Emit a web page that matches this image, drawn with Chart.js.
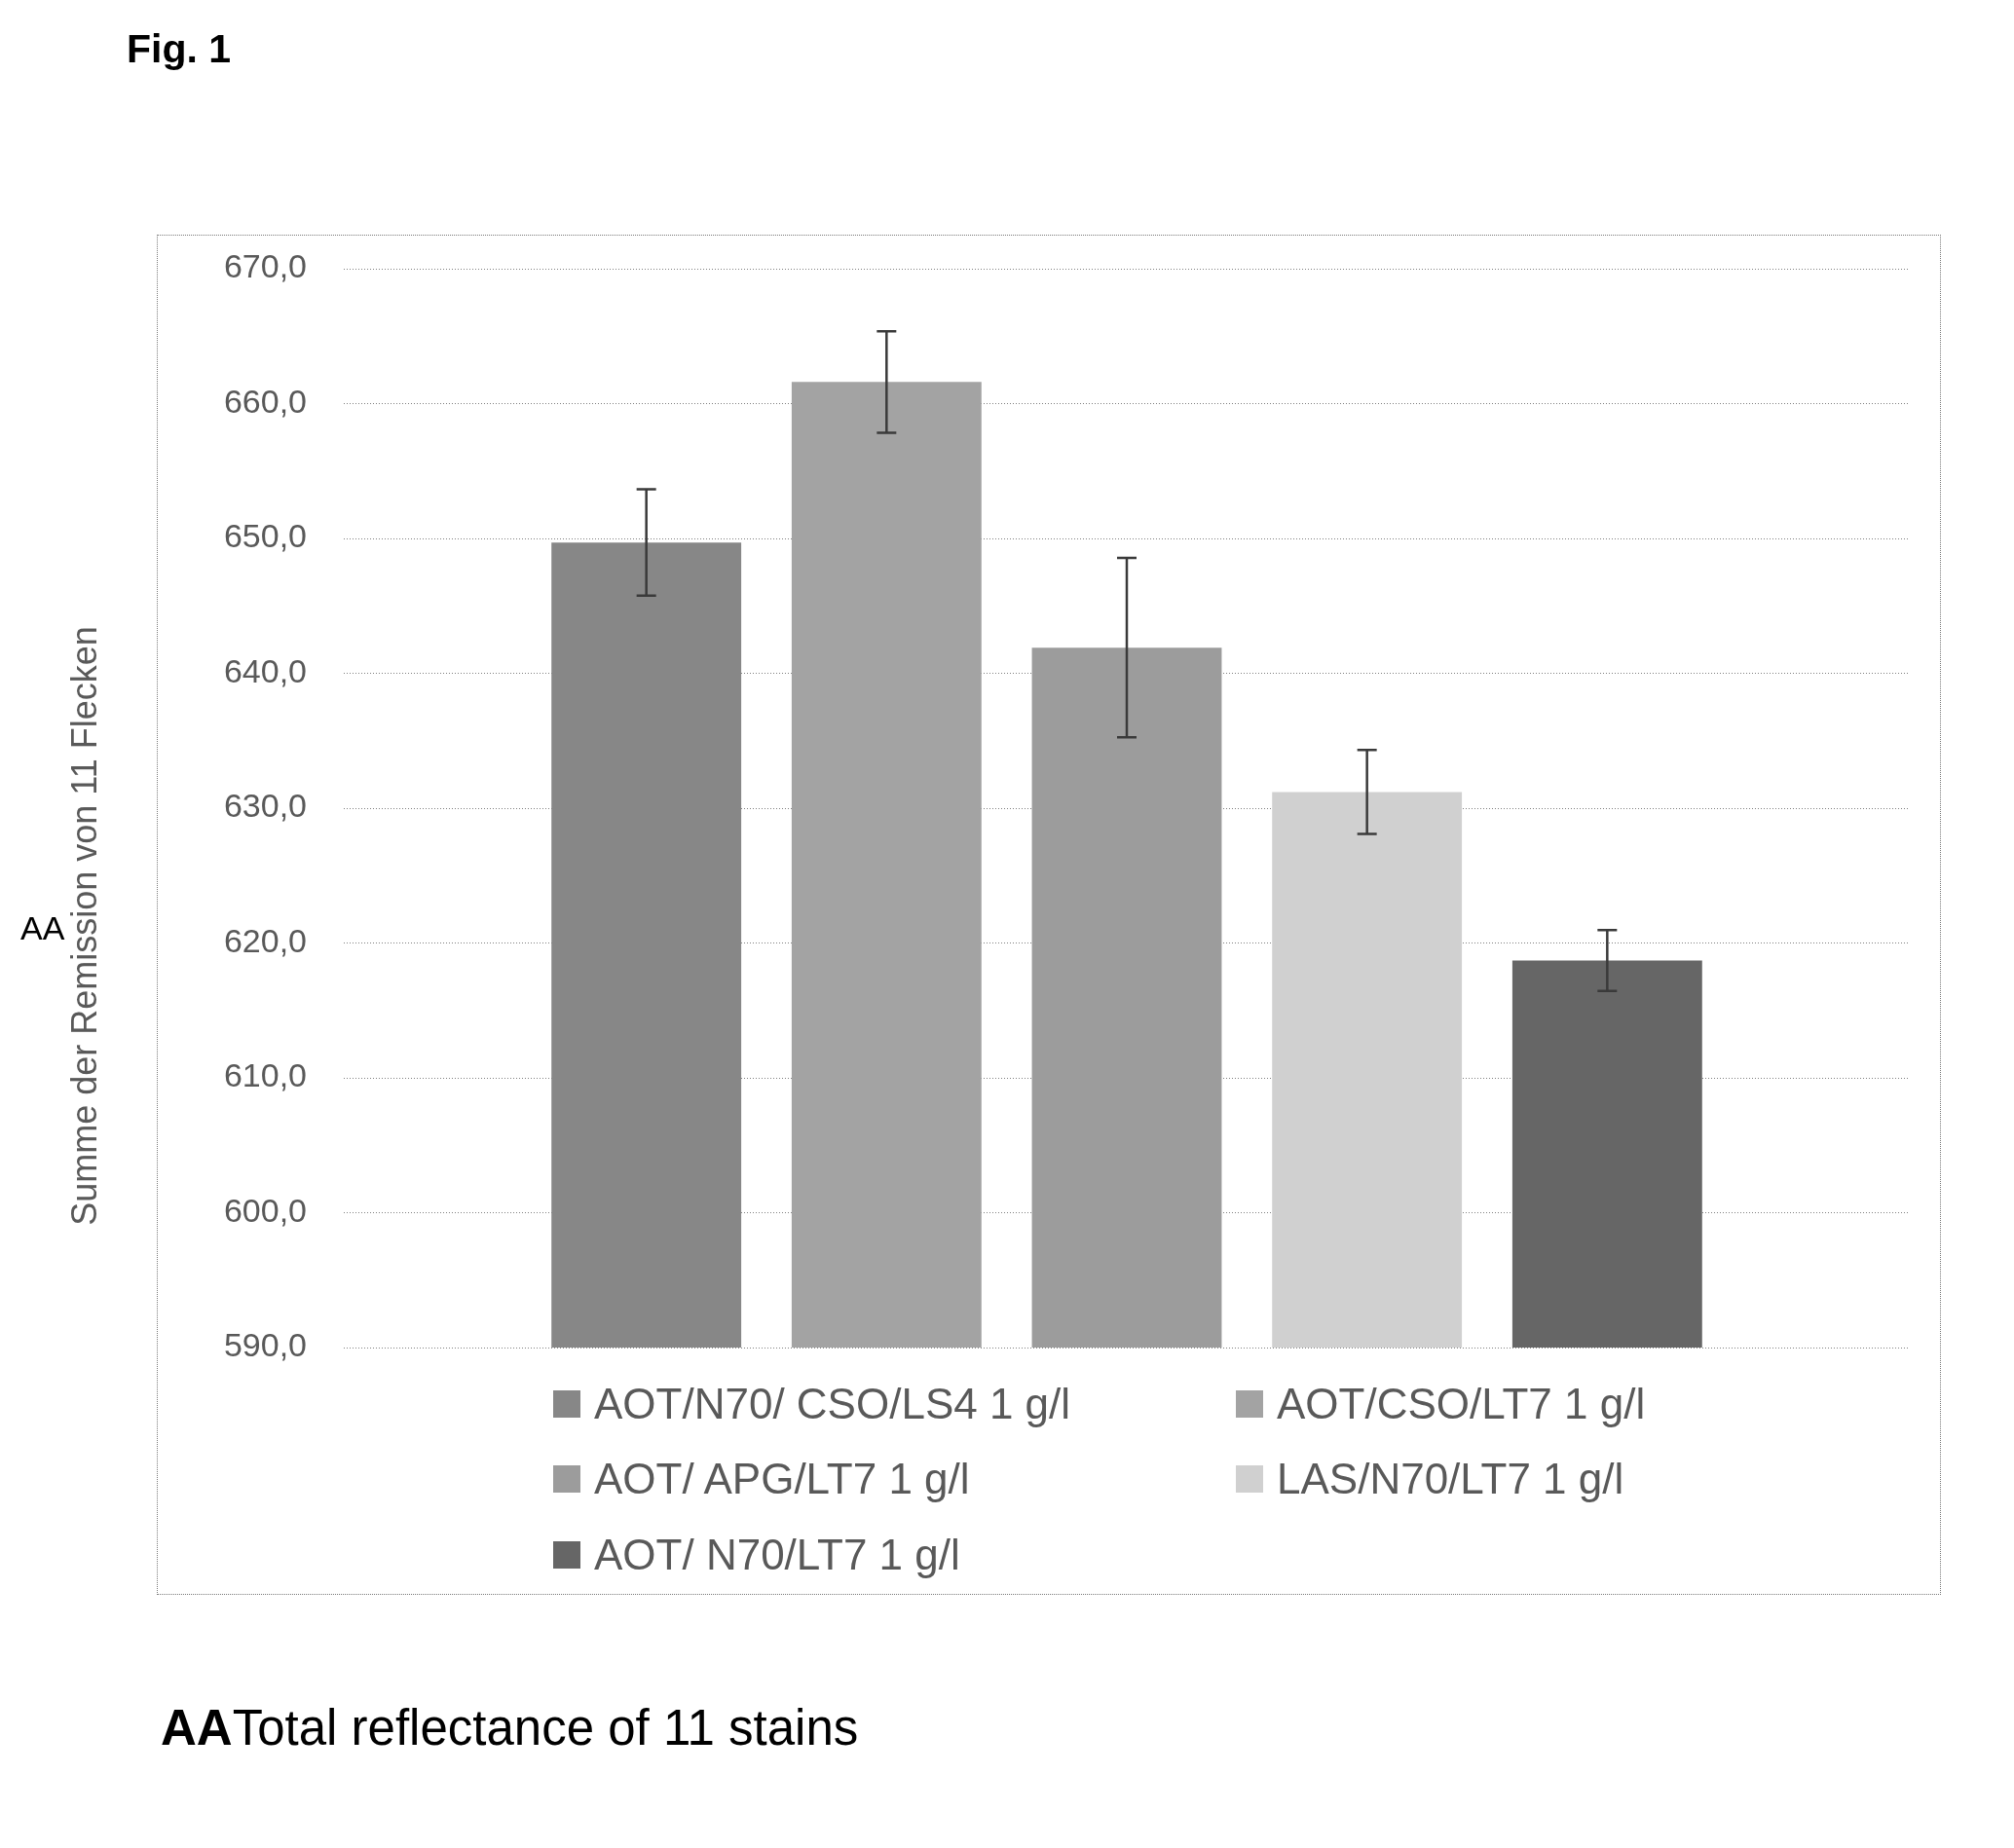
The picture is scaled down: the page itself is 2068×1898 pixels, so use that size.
<!DOCTYPE html>
<html>
<head>
<meta charset="utf-8">
<script src="https://cdn.jsdelivr.net/npm/chart.js@4.4.1/dist/chart.umd.min.js"></script>
<style>
html,body{margin:0;padding:0;background:#fff;width:2068px;height:1898px;overflow:hidden;font-family:"Liberation Sans",Arial,sans-serif;}
#wrap{position:relative;width:2068px;height:1898px;}
#c{position:absolute;left:0;top:0;}
.abs{position:absolute;white-space:nowrap;}
#frame{position:absolute;left:161px;top:241px;width:1830px;height:1395px;border:1px dotted #7a7a7a;pointer-events:none;}
#fig{left:130px;top:30px;font-size:41px;line-height:41px;font-weight:bold;color:#000;}
#aa{left:21px;top:936px;font-size:34px;line-height:34px;color:#000;}
#ytitle{left:-263.5px;top:933px;width:700px;height:36px;font-size:36px;line-height:36px;text-align:center;color:#595959;transform:rotate(-90deg);transform-origin:50% 50%;}
#legend{position:absolute;left:568px;top:1403px;display:grid;grid-template-columns:701px 701px;grid-auto-rows:77.5px;align-items:center;}
.li{display:flex;align-items:center;white-space:nowrap;font-size:44px;line-height:44px;color:#595959;}
.lb{width:28px;height:28px;margin-right:14px;flex:none;}
#caption{left:165px;top:1749px;font-size:51px;line-height:51px;color:#000;}
</style>
</head>
<body>
<div id="wrap">
  <canvas id="c" width="2068" height="1898"></canvas>
  <div id="frame"></div>
  <div id="fig" class="abs">Fig. 1</div>
  <div id="aa" class="abs">AA</div>
  <div id="ytitle" class="abs"></div>
  <div id="legend"></div>
  <div id="caption" class="abs"><b>AA</b>Total reflectance of 11 stains</div>
</div>
<script>
// ---- data ----
const categories = [''];
const seriesLabels = ['AOT/N70/ CSO/LS4 1 g/l', 'AOT/CSO/LT7 1 g/l', 'AOT/ APG/LT7 1 g/l', 'LAS/N70/LT7 1 g/l', 'AOT/ N70/LT7 1 g/l'];
const seriesValues = [649.7, 661.6, 641.9, 631.2, 618.7];
const seriesErrors = [3.95, 3.76, 6.65, 3.12, 2.25];
const seriesColors = ['#878787', '#a3a3a3', '#9c9c9c', '#d0d0d0', '#666666'];
const yTickValues = [590, 600, 610, 620, 630, 640, 650, 660, 670];
const yAxisTitle = 'Summe der Remission von 11 Flecken';

document.getElementById('ytitle').textContent = yAxisTitle;

const datasets = seriesLabels.map((label, i) => ({
  label: label,
  data: [seriesValues[i]],
  errors: [seriesErrors[i]],
  backgroundColor: seriesColors[i],
  borderWidth: 0,
  categoryPercentage: 0.767,
  barPercentage: 0.79
}));

const errorBars = {
  id: 'errorBars',
  afterDatasetsDraw(chart) {
    const ctx = chart.ctx;
    const y = chart.scales.y;
    ctx.save();
    ctx.strokeStyle = '#3a3a3a';
    ctx.lineWidth = 2.5;
    chart.data.datasets.forEach((ds, i) => {
      const meta = chart.getDatasetMeta(i);
      meta.data.forEach((bar, j) => {
        const v = ds.data[j], e = ds.errors[j];
        const yt = y.getPixelForValue(v + e);
        const yb = y.getPixelForValue(v - e);
        const x = bar.x, cap = 10;
        ctx.beginPath();
        ctx.moveTo(x, yt); ctx.lineTo(x, yb);
        ctx.moveTo(x - cap, yt); ctx.lineTo(x + cap, yt);
        ctx.moveTo(x - cap, yb); ctx.lineTo(x + cap, yb);
        ctx.stroke();
      });
    });
    ctx.restore();
  }
};

const chart = new Chart(document.getElementById('c'), {
  type: 'bar',
  data: { labels: categories, datasets: datasets },
  options: {
    responsive: false,
    animation: false,
    devicePixelRatio: 1,
    layout: { padding: { left: 200, right: 107, top: 276, bottom: 514 } },
    plugins: { legend: { display: false }, tooltip: { enabled: false }, title: { display: false } },
    scales: {
      x: { display: false },
      y: {
        min: yTickValues[0],
        max: yTickValues[yTickValues.length - 1],
        afterBuildTicks(scale) { scale.ticks = yTickValues.map(v => ({ value: v })); },
        afterFit(scale) { scale.width = 153; },
        ticks: {
          padding: 38,
          color: '#595959',
          font: { family: '"Liberation Sans", Arial, sans-serif', size: 34 },
          callback: v => Number(v).toFixed(1).replace('.', ',')
        },
        grid: { color: '#808080', lineWidth: 1, drawTicks: false },
        border: { display: false, dash: [1, 2] }
      }
    }
  },
  plugins: [errorBars]
});

// HTML legend built from the chart's datasets
const legendEl = document.getElementById('legend');
chart.data.datasets.forEach(ds => {
  const item = document.createElement('div');
  item.className = 'li';
  const box = document.createElement('span');
  box.className = 'lb';
  box.style.background = ds.backgroundColor;
  const txt = document.createElement('span');
  txt.textContent = ds.label;
  item.appendChild(box);
  item.appendChild(txt);
  legendEl.appendChild(item);
});
</script>
</body>
</html>
